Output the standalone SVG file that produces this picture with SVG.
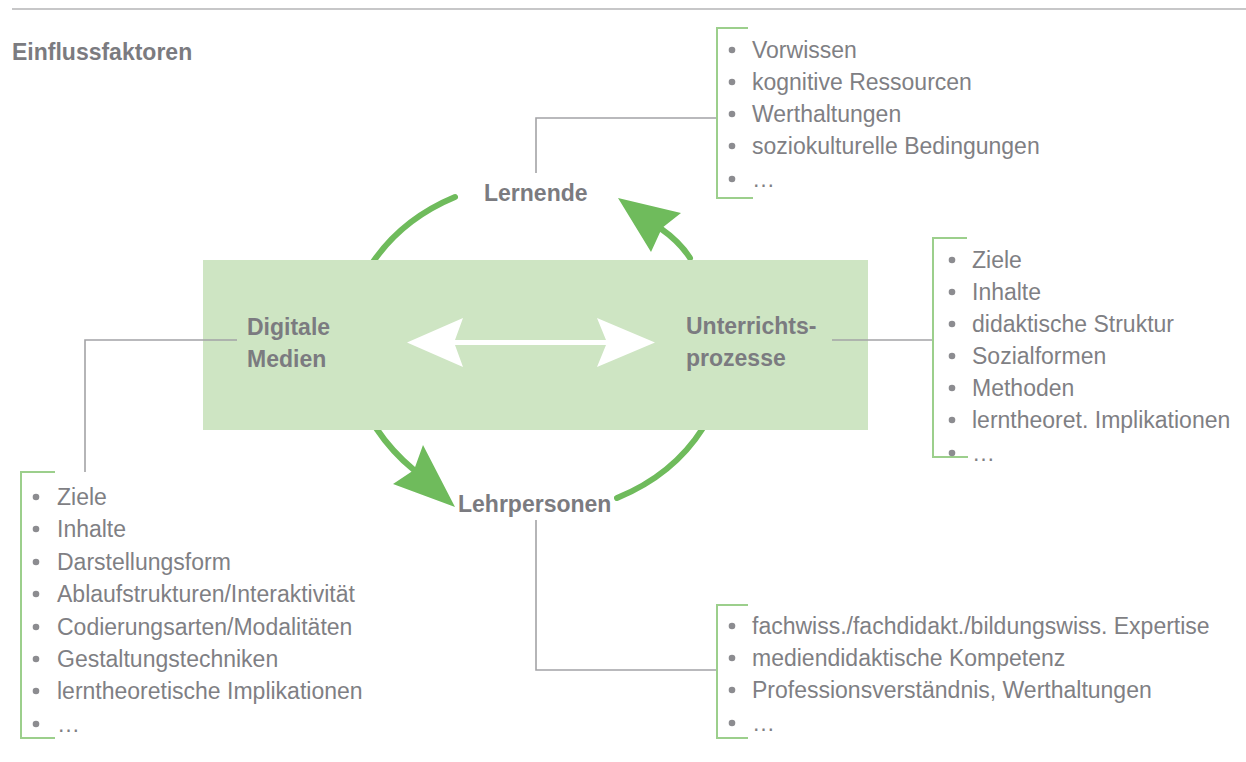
<svg xmlns="http://www.w3.org/2000/svg" width="1246" height="762" viewBox="0 0 1246 762">
<style>
text{font-family:"Liberation Sans",Arial,sans-serif;font-size:23px;fill:#7f7f84}
.lbl{font-weight:bold;fill:#7b7b80}
.lead{fill:none;stroke:#a3a3a6;stroke-width:1.6}
.brk{fill:none;stroke:#9ccf8c;stroke-width:2}
.arc{fill:none;stroke:#6fbb5c;stroke-width:6;stroke-linecap:round}
.head{fill:#6fbb5c}
.dot{fill:#8c8c90}
</style>
<defs>
<clipPath id="outside"><path clip-rule="evenodd" d="M0,0H1246V762H0Z M203,260H868V430H203Z"/></clipPath>
</defs>
<rect width="1246" height="762" fill="#ffffff"/>
<g id="frame">
<line x1="12" y1="9" x2="1246" y2="9" stroke="#b4b4b6" stroke-width="1.6"/>
<text class="lbl" x="12" y="60">Einflussfaktoren</text>
</g>
<g id="core">
<rect x="203" y="260" width="665" height="170" fill="#cee5c3"/>
</g>
<g id="connectors">
<g clip-path="url(#outside)">
<path class="arc" d="M373,262 A192,165 0 0,1 455,197"/>
<path class="arc" d="M690,258 Q680,242 660,228"/>
<polygon class="head" points="618,198 681,213 662,228 651,252"/>
<path class="arc" d="M376,428 Q392,452 414,470"/>
<polygon class="head" points="455,507 393,484 414,470 423,445"/>
<path class="arc" d="M617,498 A192,165 0 0,0 703,428"/>
</g>
<polygon fill="#ffffff" points="407,342.5 463,318 455,340 606,340 597,318 655,342.5 597,367 606,345 455,345 463,367"/>
<path class="lead" d="M536,173V118H717"/>
<path class="lead" d="M536,520V670H717"/>
<path class="lead" d="M237,340H85V472"/>
<path class="lead" d="M832,340H933"/>
</g>
<g id="lernende">
<text class="lbl" x="484" y="201">Lernende</text>
<path class="brk" d="M748,28H717V198H753"/>
<circle class="dot" cx="732" cy="50" r="3.3"/><text x="752" y="58">Vorwissen</text>
<circle class="dot" cx="732" cy="82" r="3.3"/><text x="752" y="90">kognitive Ressourcen</text>
<circle class="dot" cx="732" cy="114" r="3.3"/><text x="752" y="122">Werthaltungen</text>
<circle class="dot" cx="732" cy="146" r="3.3"/><text x="752" y="154">soziokulturelle Bedingungen</text>
<circle class="dot" cx="732" cy="179" r="3.3"/><text x="752" y="187">…</text>
</g>
<g id="unterrichtsprozesse">
<text class="lbl" x="686" y="334">Unterrichts-</text>
<text class="lbl" x="686" y="366">prozesse</text>
<path class="brk" d="M967,238H933V457H968"/>
<circle class="dot" cx="952" cy="260" r="3.3"/><text x="972" y="268">Ziele</text>
<circle class="dot" cx="952" cy="292" r="3.3"/><text x="972" y="300">Inhalte</text>
<circle class="dot" cx="952" cy="324" r="3.3"/><text x="972" y="332">didaktische Struktur</text>
<circle class="dot" cx="952" cy="356" r="3.3"/><text x="972" y="364">Sozialformen</text>
<circle class="dot" cx="952" cy="388" r="3.3"/><text x="972" y="396">Methoden</text>
<circle class="dot" cx="952" cy="420" r="3.3"/><text x="972" y="428">lerntheoret. Implikationen</text>
<circle class="dot" cx="952" cy="453" r="3.3"/><text x="972" y="461">…</text>
</g>
<g id="digitale-medien">
<text class="lbl" x="247" y="335">Digitale</text>
<text class="lbl" x="247" y="367">Medien</text>
<path class="brk" d="M55,472H21V738H55"/>
<circle class="dot" cx="36" cy="497" r="3.3"/><text x="57" y="505">Ziele</text>
<circle class="dot" cx="36" cy="529" r="3.3"/><text x="57" y="537">Inhalte</text>
<circle class="dot" cx="36" cy="562" r="3.3"/><text x="57" y="570">Darstellungsform</text>
<circle class="dot" cx="36" cy="594" r="3.3"/><text x="57" y="602">Ablaufstrukturen/Interaktivität</text>
<circle class="dot" cx="36" cy="627" r="3.3"/><text x="57" y="635">Codierungsarten/Modalitäten</text>
<circle class="dot" cx="36" cy="659" r="3.3"/><text x="57" y="667">Gestaltungstechniken</text>
<circle class="dot" cx="36" cy="691" r="3.3"/><text x="57" y="699">lerntheoretische Implikationen</text>
<circle class="dot" cx="36" cy="724" r="3.3"/><text x="57" y="732">…</text>
</g>
<g id="lehrpersonen">
<text class="lbl" x="458" y="512">Lehrpersonen</text>
<path class="brk" d="M748,605H717V738H748"/>
<circle class="dot" cx="732" cy="626" r="3.3"/><text x="752" y="634">fachwiss./fachdidakt./bildungswiss. Expertise</text>
<circle class="dot" cx="732" cy="658" r="3.3"/><text x="752" y="666">mediendidaktische Kompetenz</text>
<circle class="dot" cx="732" cy="690" r="3.3"/><text x="752" y="698">Professionsverständnis, Werthaltungen</text>
<circle class="dot" cx="732" cy="723" r="3.3"/><text x="752" y="731">…</text>
</g>
</svg>
